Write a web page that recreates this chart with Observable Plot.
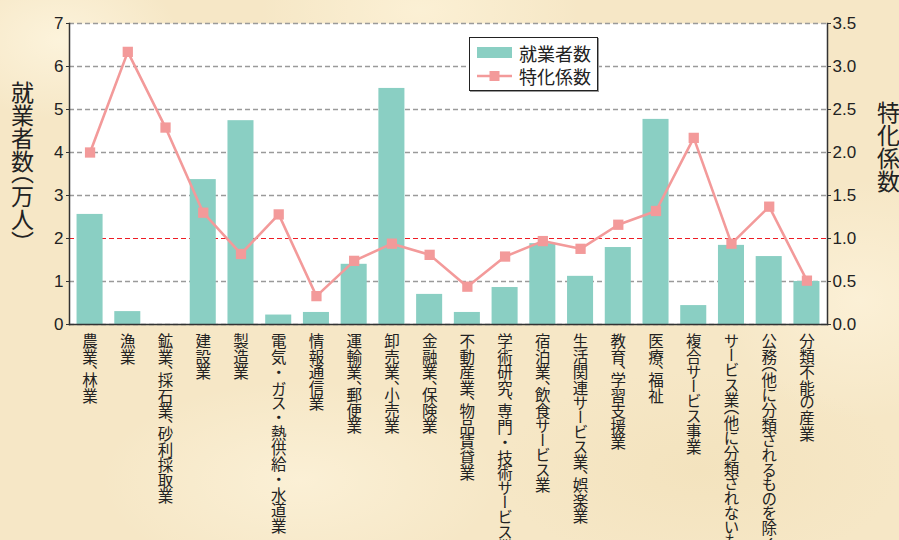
<!DOCTYPE html>
<html><head><meta charset="utf-8">
<script src="https://cdn.jsdelivr.net/npm/d3@7"></script>
<script src="https://cdn.jsdelivr.net/npm/@observablehq/plot@0.6"></script>
<style>
html,body{margin:0;padding:0;}
body{width:899px;height:540px;overflow:hidden;background-color:#f6e7c6;
background-image:
 radial-gradient(ellipse 120px 80px at 60px 40px, rgba(255,248,228,0.7), rgba(255,248,228,0)),
 radial-gradient(ellipse 160px 90px at 420px 10px, rgba(255,246,222,0.6), rgba(255,246,222,0)),
 radial-gradient(ellipse 140px 120px at 860px 300px, rgba(255,246,225,0.6), rgba(255,246,225,0)),
 radial-gradient(ellipse 200px 100px at 300px 480px, rgba(255,247,226,0.55), rgba(255,247,226,0)),
 radial-gradient(ellipse 200px 100px at 700px 470px, rgba(240,222,180,0.45), rgba(240,222,180,0));}
#wrap{position:relative;width:899px;height:540px;}
#wrap svg{overflow:visible;}
#legend{position:absolute;left:469px;top:37px;width:129px;height:54px;background:#fff;border:1.5px solid #222;box-shadow:1px 1px 0 #999;font-family:"Noto Sans CJK JP",sans-serif;font-size:18px;color:#222;box-sizing:border-box;padding:3px 0 0 7px;}
#legend .row{display:flex;align-items:center;height:23px;}
#legend svg{margin-right:6px;}
</style></head><body><div id="wrap"></div>
<script>
const categories = ["農業、林業", "漁業", "鉱業、採石業、砂利採取業", "建設業", "製造業", "電気・ガス・熱供給・水道業", "情報通信業", "運輸業、郵便業", "卸売業、小売業", "金融業、保険業", "不動産業、物品賃貸業", "学術研究、専門・技術サービス業", "宿泊業、飲食サービス業", "生活関連サービス業、娯楽業", "教育、学習支援業", "医療、福祉", "複合サービス事業", "サービス業（他に分類されないもの）", "公務（他に分類されるものを除く）", "分類不能の産業"];
const employees = [2.56, 0.30, 0.0, 3.37, 4.74, 0.22, 0.28, 1.40, 5.49, 0.70, 0.28, 0.86, 1.88, 1.12, 1.79, 4.77, 0.44, 1.84, 1.58, 1.00];
const coefficients = [2.00, 3.17, 2.29, 1.30, 0.82, 1.28, 0.33, 0.74, 0.94, 0.81, 0.44, 0.79, 0.97, 0.88, 1.16, 1.32, 2.17, 0.94, 1.37, 0.51];
const leftTicks = [0, 1, 2, 3, 4, 5, 6, 7];
const rightTickLabels = ["0.0", "0.5", "1.0", "1.5", "2.0", "2.5", "3.0", "3.5"];
const leftLabel = "就業者数（万人）";
const rightLabel = "特化係数";
const seriesNames = ["就業者数", "特化係数"];

const barColor = "#8acfc3";
const lineColor = "#f39a9a";
const ratio = 2; // right axis 3.5 <-> left axis 7

const data = categories.map((c, i) => ({cat: c, emp: employees[i], coef: coefficients[i]}));

const chart = Plot.plot({
  width: 899, height: 540,
  marginTop: 23, marginLeft: 69, marginRight: 72, marginBottom: 216,
  style: {background: "transparent", fontFamily: "'Liberation Sans', Arial, sans-serif", color: "#222"},
  x: {domain: categories, paddingInner: 0.31, paddingOuter: 0.2, round: false, axis: null},
  y: {domain: [0, 7]},
  marks: [
    Plot.frame({fill: "white", stroke: "none"}),
    Plot.ruleY(leftTicks.filter(d => d !== 2), {stroke: "#9a9a9a", strokeWidth: 1.3, strokeDasharray: "5,3"}),
    Plot.ruleY([2], {stroke: "#ee1c24", strokeWidth: 1.1, strokeDasharray: "5,3"}),
    Plot.barY(data, {x: "cat", y: "emp", fill: barColor}),
    Plot.line(data, {x: "cat", y: d => d.coef * ratio, stroke: lineColor, strokeWidth: 2.6}),
    Plot.dot(data, {x: "cat", y: d => d.coef * ratio, symbol: "square", fill: lineColor, r: 5.8}),
    Plot.frame({anchor: "left", stroke: "#333", strokeWidth: 1.5}),
    Plot.frame({anchor: "right", stroke: "#333", strokeWidth: 1.5}),
    Plot.frame({anchor: "bottom", stroke: "#333", strokeWidth: 1.5}),
    Plot.axisY(leftTicks, {anchor: "left", tickSize: 3, tickPadding: 3, fontSize: 17, label: null, stroke: "#333"}),
    Plot.axisY(leftTicks, {anchor: "right", tickSize: 3, tickPadding: 2, fontSize: 17, label: null, stroke: "#333",
      tickFormat: d => rightTickLabels[leftTicks.indexOf(d)]}),
    Plot.text(data, {x: "cat", text: "cat", frameAnchor: "bottom", dy: 9, lineAnchor: "bottom", textAnchor: "start",
      fontSize: 15.5, fill: "#222"}),
    Plot.text([leftLabel], {frameAnchor: "top-left", dx: -47, dy: 57, lineAnchor: "bottom", textAnchor: "start",
      fontSize: 23, fill: "#222"}),
    Plot.text([rightLabel], {frameAnchor: "top-right", dx: 61, dy: 77, lineAnchor: "bottom", textAnchor: "start",
      fontSize: 23, fill: "#222"})
  ]
});

// vertical Japanese writing; 、（） half-width, kana proportional
const punct = /^[、（）]$/;
const kana = /^[\u3041-\u30fa\u30fc-\u30ff]+$/;
d3.select(chart).selectAll('g[aria-label="text"] text')
  .attr("writing-mode", "vertical-rl")
  .style("writing-mode", "vertical-rl")
  .style("font-family", "'Noto Sans CJK JP', sans-serif")
  .each(function() {
    const parts = this.textContent.split(/([、（）]|[\u3041-\u30fa\u30fc-\u30ff]+)/).filter(s => s.length);
    this.textContent = "";
    for (const p of parts) {
      const ts = d3.select(this).append("tspan").text(p);
      if (punct.test(p)) ts.style("font-feature-settings", "'vhal'");
      else if (kana.test(p)) ts.style("font-feature-settings", "'vpal'");
    }
  });

const wrap = document.getElementById("wrap");
wrap.appendChild(chart);

const legend = document.createElement("div");
legend.id = "legend";
legend.innerHTML =
  `<div class="row"><svg width="36" height="12"><rect x="0" y="0" width="35" height="11" fill="${barColor}"/></svg><span>${seriesNames[0]}</span></div>` +
  `<div class="row"><svg width="36" height="12"><line x1="0" x2="35" y1="6" y2="6" stroke="${lineColor}" stroke-width="2.6"/><rect x="12.5" y="1" width="10" height="10" fill="${lineColor}"/></svg><span>${seriesNames[1]}</span></div>`;
wrap.appendChild(legend);
</script>
</body></html>
